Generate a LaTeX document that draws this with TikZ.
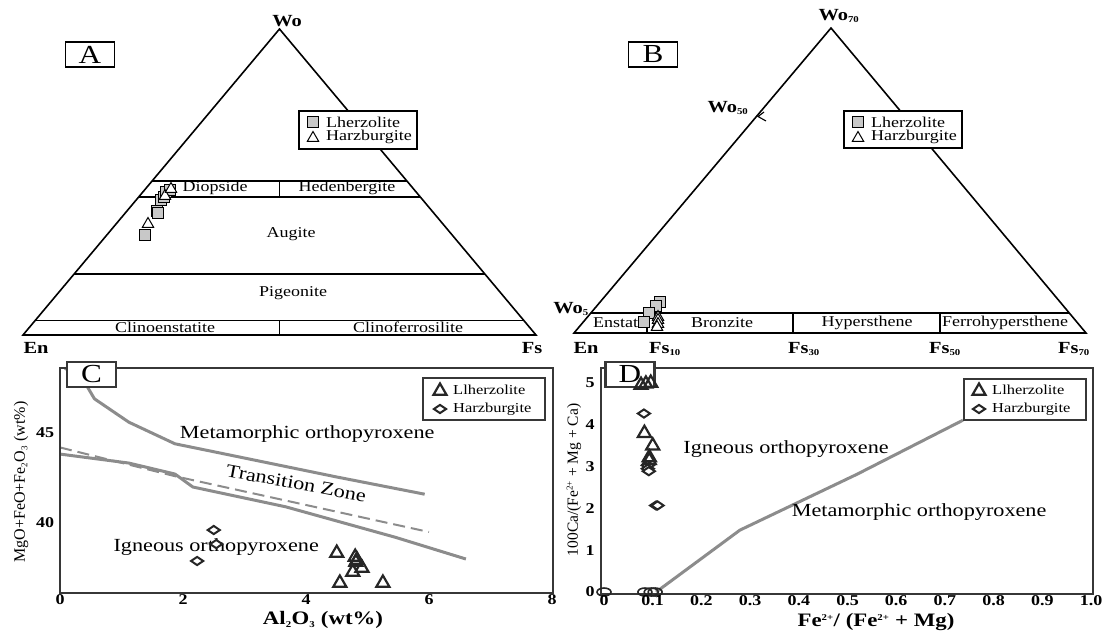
\documentclass[tikz,border=0pt]{standalone}
\usepackage{fontspec}
\setmainfont{Liberation Serif}[FakeStretch=1.2]
\newfontfamily\serifrecta{Liberation Serif}
\usepackage{tikz}
\usetikzlibrary{shapes.geometric}
\usetikzlibrary{positioning}

\definecolor{grisCurva}{RGB}{140,140,140}
\definecolor{grisMarco}{RGB}{55,55,55}
\definecolor{grisRelleno}{RGB}{200,200,200}
\newcommand{\indice}[1]{\textsubscript{\fontsize{9}{9}\selectfont #1}}
\newcommand{\expo}[1]{\textsuperscript{\fontsize{9}{9}\selectfont #1}}

\tikzset{
  lado/.style={line width=1.6pt, line join=miter},
  banda/.style={line width=1.1pt},
  txt/.style={inner sep=0pt, font=\fontsize{15}{17}\selectfont},
  vertice/.style={inner sep=0pt, font=\fontsize{17}{19}\selectfont\bfseries},
  rotulo/.style={draw=black, line width=1.8pt, fill=white, minimum width=49pt, minimum height=25pt, inner sep=0pt, font=\fontsize{26}{26}\selectfont},
  leyenda/.style={draw=black, line width=1.8pt, fill=white, inner sep=0pt},
  cuadro/.style={rectangle, draw=black, line width=1pt, fill=grisRelleno, minimum size=11pt, inner sep=0pt},
  trian/.style={regular polygon, regular polygon sides=3, draw=black, line width=1pt, fill=white, minimum size=13pt, inner sep=0pt},
  triG/.style={regular polygon, regular polygon sides=3, draw=black!85, line width=2.2pt, minimum size=15pt, inner sep=0pt},
  diam/.style={diamond, draw=black!85, line width=2pt, fill=white, minimum width=13pt, minimum height=9pt, inner sep=0pt},
  elip/.style={ellipse, draw=black!85, line width=1.6pt, minimum width=14pt, minimum height=8pt, inner sep=0pt},
  marco/.style={draw=grisMarco, line width=2.5pt},
  curva/.style={draw=grisCurva, line width=3pt, line join=round},
  zona/.style={inner sep=0pt, font=\fontsize{18.5}{20}\selectfont},
  marca/.style={inner sep=0pt, font=\fontsize{15}{17}\selectfont\bfseries},
  titulo/.style={inner sep=0pt, font=\fontsize{19}{21}\selectfont\bfseries},
  tituloY/.style={inner sep=0pt, font=\serifrecta\fontsize{16}{18}\selectfont, rotate=90},
  leyCD/.style={inner sep=0pt, font=\fontsize{13.7}{15}\selectfont, anchor=west},
}

\begin{document}
\begin{tikzpicture}[x=1pt, y=-1pt]
  \useasboundingbox (0,0) rectangle (1103,630);

  % Triangulo A
  \coordinate (woA) at (279.5,29);
  \coordinate (enA) at (23,335);
  \coordinate (fsA) at (536,335);
  \draw[lado] (enA) -- (woA) -- (fsA) -- cycle;
  \draw[banda] (152.1,181) -- (406.9,181);
  \draw[banda] (138.7,197) -- (420.3,197);
  \draw[banda] (279.5,181) -- (279.5,197);
  \draw[banda] (74.1,274) -- (484.9,274);
  \draw[banda] (35,320.7) -- (524,320.7);
  \draw[banda] (279.5,320.7) -- (279.5,335);

  \node[vertice] (woAlab) at (287,21) {Wo};
  \node[vertice] (enAlab) at (36,348) {En};
  \node[vertice] (fsAlab) at (532,348) {Fs};
  \node[txt] (diop) at (215,188) {Diopside};
  \node[txt] (hede) at (347,188) {Hedenbergite};
  \node[txt] (augi) at (291,234) {Augite};
  \node[txt] (pige) at (293,293) {Pigeonite};
  \node[txt] (clen) at (165,327) {Clinoenstatite};
  \node[txt] (clfs) at (408,327) {Clinoferrosilite};
  \node[rotulo] (letA) at (90,54.5) {A};

  % Leyenda A
  \node[leyenda, minimum width=118pt, minimum height=38pt] (leyA) at (358,130) {};
  \node[cuadro] (leyAsq) at (313,122) {};
  \node[trian] (leyAtr) at (313,138) {};
  \node[txt, anchor=west] (leyAt1) at (326,122) {Lherzolite};
  \node[txt, anchor=west] (leyAt2) at (326,137) {Harzburgite};

  % Datos A
  \foreach \px/\py [count=\i] in {145/235, 157/211, 158/213, 161/200, 164/197, 166/192, 170/190}
    \node[cuadro] (sqA\i) at (\px,\py) {};
  \foreach \px/\py [count=\i] in {148/224, 165/196, 171/189}
    \node[trian] (trA\i) at (\px,\py) {};

  % Triangulo B
  \coordinate (woB) at (831,28);
  \coordinate (enB) at (574,333);
  \coordinate (fsB) at (1086,333);
  \draw[lado] (enB) -- (woB) -- (fsB) -- cycle;
  \draw[banda] (590.9,313) -- (1069.1,313);
  \foreach \dx in {647,793,940}
    \draw[banda] (\dx,313) -- (\dx,333);
  \draw[line width=1.1pt] (764,112) -- (758,116.5) -- (766,121);

  \node[vertice] (woBlab) at (839,16) {Wo\indice{70}};
  \node[vertice] (wo50lab) at (728,108) {Wo\indice{50}};
  \node[vertice] (wo5lab) at (571,309) {Wo\indice{5}};
  \node[vertice] (enBlab) at (586,348) {En};
  \node[vertice] (fs10lab) at (665,349) {Fs\indice{10}};
  \node[vertice] (fs30lab) at (804,349) {Fs\indice{30}};
  \node[vertice] (fs50lab) at (945,349) {Fs\indice{50}};
  \node[vertice] (fs70lab) at (1074,349) {Fs\indice{70}};
  \node[txt, anchor=west] (enst) at (593,323) {Enstat};
  \node[txt] (bron) at (722,323) {Bronzite};
  \node[txt] (hype) at (867,323) {Hypersthene};
  \node[txt] (ferr) at (1005,323) {Ferrohypersthene};
  \node[rotulo] (letB) at (653,54.5) {B};

  % Leyenda B
  \node[leyenda, minimum width=118pt, minimum height=37pt] (leyB) at (903,129.5) {};
  \node[cuadro] (leyBsq) at (858,122) {};
  \node[trian] (leyBtr) at (858,138) {};
  \node[txt, anchor=west] (leyBt1) at (871,122) {Lherzolite};
  \node[txt, anchor=west] (leyBt2) at (871,137) {Harzburgite};

  % Datos B
  \foreach \px/\py [count=\i] in {660/302, 656/306, 649/313, 644/322}
    \node[cuadro] (sqB\i) at (\px,\py) {};
  \foreach \px/\py [count=\i] in {658/317, 658/320, 658/324, 657/327}
    \node[trian] (trB\i) at (\px,\py) {};

  % Grafico C
  \begin{scope}[shift={(60,1243)}, x=61.5pt, y=18pt]
    \draw[curva] (0.08,48.6) -- (0.37,48.0) -- (0.56,46.9) -- (1.12,45.6) -- (1.87,44.4)
      -- (2.5,43.96) -- (4.48,42.57) -- (5.93,41.6);
    \draw[curva] (0,43.83) -- (1.12,43.33) -- (1.87,42.72) -- (2.16,42.0) -- (3.67,40.9)
      -- (5.46,39.2) -- (6.6,38.0);
    \draw[grisCurva, line width=2pt, dash pattern=on 12pt off 6pt] (0,44.2) -- (1.87,42.6) -- (6.0,39.5);
    \draw[marco] (0,36.11) rectangle (8.02,48.61);

    \node[zona] (metaC) at (4.02,44.94) {Metamorphic orthopyroxene};
    \node[zona, rotate=-10.5] (tranC) at (3.84,42.2) {Transition Zone};
    \node[zona] (ignC) at (2.54,38.67) {Igneous orthopyroxene};

    \foreach \vx/\vy [count=\i] in {2.5/39.61, 2.54/38.83, 2.23/37.89}
      \node[diam] (diC\i) at (\vx,\vy) {};
    \foreach \vx/\vy [count=\i] in {4.5/38.33, 4.8/38.11, 4.83/37.94, 4.81/37.83, 4.91/37.5,
        4.76/37.28, 4.55/36.67, 5.25/36.67}
      \node[triG] (trC\i) at (\vx,\vy) {};
  \end{scope}
  \node[rotulo, draw=grisMarco, line width=2.5pt] (letC) at (91.5,374.5) {C};
  \foreach \v in {0,2,4,6,8}
    \node[marca] (tkC\v) at (60+61.5*\v,600) {\v};
  \node[marca] (tkC45) at (45,433) {45};
  \node[marca] (tkC40) at (45,523) {40};
  \node[tituloY] (ylabC) at (21,482) {MgO+FeO+Fe\indice{2}O\indice{3} (wt\%)};
  \node[titulo] (xlabC) at (323,620) {Al\indice{2}O\indice{3} (wt\%)};

  % Leyenda C
  \node[leyenda, draw=grisMarco, line width=2.5pt, minimum width=122pt, minimum height=42pt] (leyC) at (484,399) {};
  \node[triG] (leyCtr) at (440,391) {};
  \node[diam] (leyCdi) at (440,409) {};
  \node[leyCD] (leyCt1) at (453,390) {Llherzolite};
  \node[leyCD] (leyCt2) at (453,409) {Harzburgite};

  % Grafico D
  \begin{scope}[shift={(604,592)}, x=487pt, y=41.8pt]
    \draw[curva] (0.107,0) -- (0.279,1.48) -- (0.52,2.82) -- (0.737,4.11);
    \draw[marco] (-0.006,-0.048) rectangle (1.004,5.36);

    \node[zona] (ignD) at (0.374,3.42) {Igneous orthopyroxene};
    \node[zona] (metaD) at (0.647,1.91) {Metamorphic orthopyroxene};
  \end{scope}
  \node[rotulo, draw=grisMarco, line width=2.5pt] (letD) at (630,374.5) {D};
  \begin{scope}[shift={(604,592)}, x=487pt, y=41.8pt]
    \foreach \vx/\vy [count=\i] in {0.082/4.27, 0.09/3.03, 0.09/2.95, 0.092/2.89, 0.107/2.07, 0.11/2.07}
      \node[diam] (diD\i) at (\vx,\vy) {};
    \foreach \vx/\vy [count=\i] in {0.076/4.95, 0.086/4.98, 0.096/5.0, 0.083/3.8, 0.1/3.5,
        0.093/3.22, 0.093/3.15}
      \node[triG] (trD\i) at (\vx,\vy) {};
    \foreach \vx [count=\i] in {0, 0.084, 0.097, 0.105}
      \node[elip] (elD\i) at (\vx,0) {};
  \end{scope}
  \foreach \v/\t [count=\i] in {0/0, 0.1/0.1, 0.2/0.2, 0.3/0.3, 0.4/0.4, 0.5/0.5, 0.6/0.6,
      0.7/0.7, 0.8/0.8, 0.9/0.9, 1/1.0}
    \node[marca] (tkD\i) at (604+487*\v,601) {\t};
  \foreach \v in {0,...,5}
    \node[marca] (tkDy\v) at (590,592-41.8*\v) {\v};
  \node[tituloY, font=\serifrecta\fontsize{15.5}{17}\selectfont] (ylabD) at (574,480) {100Ca/(Fe\expo{2+} + Mg + Ca)};
  \node[titulo] (xlabD) at (876,622) {Fe\expo{2+}/ (Fe\expo{2+} + Mg)};

  % Leyenda D
  \node[leyenda, draw=grisMarco, line width=2.5pt, minimum width=122pt, minimum height=41pt] (leyD) at (1025,399.5) {};
  \node[triG] (leyDtr) at (979,391) {};
  \node[diam] (leyDdi) at (979,409) {};
  \node[leyCD] (leyDt1) at (992,390) {Llherzolite};
  \node[leyCD] (leyDt2) at (992,409) {Harzburgite};
\end{tikzpicture}
\end{document}
